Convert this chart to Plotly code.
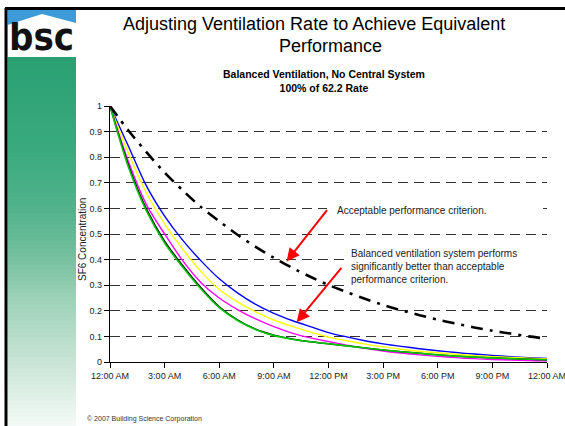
import plotly.graph_objects as go

# ---------------- data ----------------
hours = list(range(25))
criterion = [1.0, 0.905, 0.82, 0.74, 0.67, 0.605, 0.55, 0.497, 0.45, 0.407, 0.368, 0.333, 0.301,
             0.273, 0.247, 0.223, 0.202, 0.183, 0.165, 0.15, 0.135, 0.122, 0.111, 0.1, 0.091]
blue = [1.0, 0.845, 0.688, 0.57, 0.475, 0.395, 0.325, 0.27, 0.225, 0.19, 0.162, 0.138, 0.115,
        0.098, 0.083, 0.071, 0.061, 0.052, 0.044, 0.037, 0.031, 0.026, 0.021, 0.017, 0.014]
yellow = [1.0, 0.818, 0.66, 0.54, 0.44, 0.353, 0.283, 0.235, 0.196, 0.164, 0.139, 0.117, 0.097,
          0.083, 0.07, 0.059, 0.05, 0.042, 0.036, 0.03, 0.025, 0.021, 0.018, 0.015, 0.012]
magenta = [1.0, 0.785, 0.615, 0.5, 0.395, 0.31, 0.25, 0.205, 0.168, 0.138, 0.113, 0.094, 0.08,
           0.066, 0.053, 0.043, 0.035, 0.028, 0.022, 0.017, 0.013, 0.01, 0.008, 0.006, 0.005]
black = [1.0, 0.772, 0.598, 0.472, 0.376, 0.29, 0.216, 0.165, 0.128, 0.105, 0.09, 0.079, 0.071,
         0.063, 0.055, 0.047, 0.04, 0.034, 0.028, 0.023, 0.019, 0.016, 0.013, 0.011, 0.009]
green = [1.0, 0.764, 0.59, 0.465, 0.37, 0.285, 0.212, 0.162, 0.127, 0.103, 0.089, 0.079, 0.071,
         0.063, 0.055, 0.047, 0.04, 0.034, 0.028, 0.023, 0.019, 0.016, 0.013, 0.011, 0.009]

x_tick_vals = [0, 3, 6, 9, 12, 15, 18, 21, 24]
x_tick_text = ["12:00 AM", "3:00 AM", "6:00 AM", "9:00 AM", "12:00 PM",
               "3:00 PM", "6:00 PM", "9:00 PM", "12:00 AM"]
y_tick_vals = [0, 0.1, 0.2, 0.3, 0.4, 0.5, 0.6, 0.7, 0.8, 0.9, 1.0]
y_tick_text = ["0", "0.1", "0.2", "0.3", "0.4", "0.5", "0.6", "0.7", "0.8", "0.9", "1"]

title_line1 = "Adjusting Ventilation Rate to Achieve Equivalent"
title_line2 = "Performance"
subtitle = "<b>Balanced Ventilation, No Central System</b><br><b>100% of 62.2 Rate</b>"
y_label = "SF6 Concentration"
note1 = "Acceptable performance criterion."
note2 = "Balanced ventilation system performs<br>significantly better than acceptable<br>performance criterion."
copyright_text = "© 2007 Building Science Corporation"

# ---------------- layout helpers ----------------
W, H = 565, 426
L, R, T, B = 110, 547, 106, 362
FONT = "Liberation Sans, Arial, sans-serif"


def px(x):
    return (x - L) / (R - L)


def py(y):
    return (B - y) / (B - T)


fig = go.Figure()

series = [
    (blue, "#0000ff", 1.4),
    (yellow, "#ffff00", 1.4),
    (magenta, "#ff00ff", 1.4),
    (black, "#000000", 1.4),
    (green, "#00c800", 1.6),
]
for vals, col, w in series:
    fig.add_trace(go.Scatter(x=hours, y=vals, mode="lines",
                             line=dict(color=col, width=w, shape="spline", smoothing=0.9),
                             cliponaxis=False, showlegend=False, hoverinfo="skip"))
fig.add_trace(go.Scatter(x=hours, y=criterion, mode="lines",
                         line=dict(color="#000000", width=2.6, dash="12px,7px,3px,7px",
                                   shape="spline", smoothing=0.8),
                         cliponaxis=False, showlegend=False, hoverinfo="skip"))

shapes = []
# slide borders
shapes.append(dict(type="line", xref="paper", yref="paper", x0=px(5), x1=px(565), y0=py(8.5), y1=py(8.5),
                   line=dict(color="black", width=3), layer="above"))
shapes.append(dict(type="line", xref="paper", yref="paper", x0=px(6), x1=px(6), y0=py(8), y1=py(426),
                   line=dict(color="black", width=3), layer="above"))

# sidebar gradient
stops = [(57, (42, 160, 115)), (150, (58, 170, 126)), (210, (82, 178, 140)), (260, (120, 193, 160)),
         (300, (158, 210, 185)), (360, (200, 228, 213)), (426, (244, 250, 247))]


def col_at(y):
    for (y0, c0), (y1, c1) in zip(stops[:-1], stops[1:]):
        if y0 <= y <= y1:
            t = (y - y0) / (y1 - y0)
            return "rgb(%d,%d,%d)" % tuple(round(a + (b - a) * t) for a, b in zip(c0, c1))
    return "rgb(%d,%d,%d)" % stops[-1][1]


step = 4
yy = 57
while yy < 426:
    y2 = min(yy + step, 426)
    shapes.append(dict(type="rect", xref="paper", yref="paper", x0=px(7.5), x1=px(76),
                       y0=py(yy), y1=py(y2 + 0.5), fillcolor=col_at((yy + y2) / 2),
                       line=dict(width=0), layer="below"))
    yy = y2

# logo: sky, roof
shapes.append(dict(type="rect", xref="paper", yref="paper", x0=px(7.5), x1=px(76), y0=py(10), y1=py(57),
                   fillcolor="#3d9bd8", line=dict(width=0), layer="below"))
roof = "M %f,%f L %f,%f L %f,%f L %f,%f L %f,%f Z" % (
    px(7.5), py(25), px(42), py(14), px(76), py(23), px(76), py(57), px(7.5), py(57))
shapes.append(dict(type="path", xref="paper", yref="paper", path=roof, fillcolor="white",
                   line=dict(width=0), layer="below"))

# white boxes behind notes (hide gridlines)
shapes.append(dict(type="rect", xref="paper", yref="paper", x0=px(327), x1=px(543), y0=py(202), y1=py(216),
                   fillcolor="white", line=dict(width=0), layer="above"))
shapes.append(dict(type="rect", xref="paper", yref="paper", x0=px(346), x1=px(549), y0=py(244), y1=py(288),
                   fillcolor="white", line=dict(width=0), layer="above"))

annotations = [
    dict(text=title_line1, x=px(314), y=py(24), xref="paper", yref="paper", showarrow=False,
         xanchor="center", yanchor="middle", font=dict(family=FONT, size=18, color="black")),
    dict(text=title_line2, x=px(330), y=py(46), xref="paper", yref="paper", showarrow=False,
         xanchor="center", yanchor="middle", font=dict(family=FONT, size=18, color="black")),
    dict(text=subtitle, x=px(324), y=py(81), xref="paper", yref="paper", showarrow=False,
         xanchor="center", yanchor="middle", font=dict(family=FONT, size=10.5, color="black")),
    dict(text=y_label, x=px(82), y=py(240), xref="paper", yref="paper", showarrow=False,
         textangle=-90, xanchor="center", yanchor="middle", font=dict(family=FONT, size=10, color="#222")),
    dict(text=copyright_text, x=px(85), y=py(419), xref="paper", yref="paper", showarrow=False,
         xanchor="left", yanchor="middle", font=dict(family=FONT, size=7, color="#333")),
    dict(text="<b>bsc</b>", x=px(41), y=py(37), xref="paper", yref="paper", showarrow=False,
         xanchor="center", yanchor="middle",
         font=dict(family="DejaVu Sans Condensed, DejaVu Sans, sans-serif", size=38, color="#111")),
    dict(text=note1, x=px(335), y=py(210.5), xref="paper", yref="paper", showarrow=False,
         xanchor="left", yanchor="middle", align="left", font=dict(family=FONT, size=10, color="#222")),
    dict(text=note2, x=px(349), y=py(266), xref="paper", yref="paper", showarrow=False,
         xanchor="left", yanchor="middle", align="left", font=dict(family=FONT, size=10, color="#222")),
    # red arrows
    dict(text="", x=9.70, y=0.393, xref="x", yref="y", showarrow=True, ax=41.6, ay=-52.7,
         axref="pixel", ayref="pixel", arrowhead=2, arrowsize=1.3, arrowwidth=2, arrowcolor="#ff0000",
         standoff=0),
    dict(text="", x=10.25, y=0.155, xref="x", yref="y", showarrow=True, ax=46, ay=-56,
         axref="pixel", ayref="pixel", arrowhead=2, arrowsize=1.3, arrowwidth=2, arrowcolor="#ff0000",
         standoff=0),
]

fig.update_layout(
    width=W, height=H,
    margin=dict(l=L, r=W - R, t=T, b=H - B, pad=0, autoexpand=False),
    paper_bgcolor="white", plot_bgcolor="white",
    showlegend=False,
    shapes=shapes,
    annotations=annotations,
    font=dict(family=FONT, size=9, color="#222"),
    xaxis=dict(range=[0, 24], tickvals=x_tick_vals, ticktext=x_tick_text, showgrid=False,
               zeroline=False, showline=True, linecolor="black", linewidth=1.3,
               ticks="outside", ticklen=5, tickcolor="black", tickwidth=1,
               ticklabeloverflow="allow", automargin=False,
               tickfont=dict(family=FONT, size=9, color="#222"), fixedrange=True),
    yaxis=dict(range=[0, 1], tickvals=y_tick_vals, ticktext=y_tick_text, showgrid=True,
               gridcolor="#333333", gridwidth=1.2, griddash="10px,6px",
               zeroline=False, showline=True, linecolor="black", linewidth=1.3,
               ticks="outside", ticklen=5, tickcolor="black", tickwidth=1, automargin=False,
               tickfont=dict(family=FONT, size=9, color="#222"), fixedrange=True),
)

fig.write_html("out.html", config={"displayModeBar": False},
               post_script="document.body.style.margin='0';document.body.style.padding='0';")
